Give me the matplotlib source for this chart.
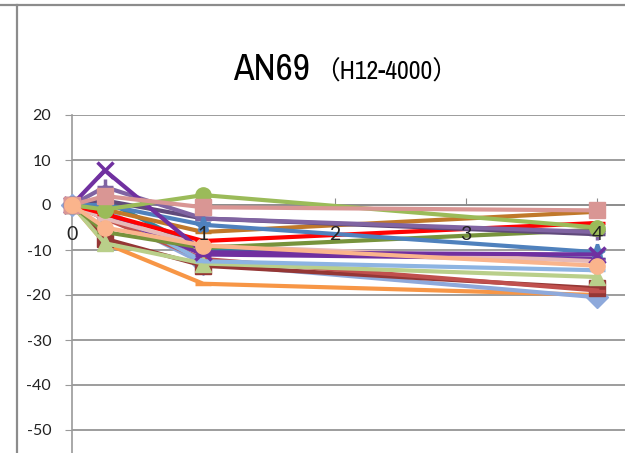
import matplotlib
matplotlib.use("Agg")
import matplotlib.pyplot as plt
from matplotlib import font_manager
from matplotlib.lines import Line2D

# ---- data ----
x_vals = [0, 0.25, 1, 4]
x_ticks = [0, 1, 2, 3, 4]
y_ticks = [-50, -40, -30, -20, -10, 0, 10, 20]

s_orange = [0, -8.5, -17.5, -20]
s_ltblue_dia = [0, -2, -13, -20.5]
s_darkred = [0, -7.5, -13.5, -18.5]
s_red2 = [0, -3, -12, -19]
s_ltgreen_tri = [0, -8.5, -13, -16]
s_blue2 = [0, -1, -12.5, -14.5]
s_teal = [0, 1, -10, -12]
s_purple2 = [0, -2, -11, -12]
s_salmon = [0, -3, -9, -12.5]
s_dkgreen = [0, -6, -9.5, -5.5]
s_red = [0, -2, -8, -4]
s_brown = [0, -1, -6, -1.5]
s_dkpurple = [0, 1, -3, -6.5]
s_purple_plus = [0, 4, -3, -6]
s_blue_star = [0, 0, -4.4, -10.5]
s_purple_x = [0, 7.7, -10.5, -11]
s_green_circ = [0, -1, 2.2, -5]
s_pink_sq = [0, 2, -0.5, -1.2]
s_peach_circ = [0, -5, -9, -13.5]

series = [
    (s_orange, "#F79646", "_"),
    (s_ltblue_dia, "#8EA9DB", "D"),
    (s_darkred, "#953735", "s"),
    (s_red2, "#C0504D", "_"),
    (s_ltgreen_tri, "#B9CF8A", "^"),
    (s_blue2, "#8DB4E2", "_"),
    (s_teal, "#31859C", "_"),
    (s_purple2, "#7030A0", "_"),
    (s_salmon, "#E6B9B8", "_"),
    (s_dkgreen, "#77933C", "_"),
    (s_red, "#FF0000", "_"),
    (s_brown, "#C0782A", "_"),
    (s_dkpurple, "#604A7B", "_"),
    (s_purple_plus, "#8064A2", "+"),
    (s_blue_star, "#4F81BD", "*"),
    (s_purple_x, "#7030A0", "x"),
    (s_green_circ, "#9BBB59", "o"),
    (s_pink_sq, "#D99694", "s"),
    (s_peach_circ, "#FAB48C", "o"),
]

# ---- fonts ----
flist = font_manager.fontManager.ttflist
avail = {f.name for f in flist}
narrow = None
for f in flist:
    if "Narrow" in f.name or "Condensed" in f.name:
        narrow = f.name
        break
title_stretch = "normal"
if narrow is None:
    for f in flist:
        if f.name == "DejaVu Sans" and str(f.stretch) in ("condensed", "semi-condensed", "600", "700"):
            narrow = "DejaVu Sans"
            title_stretch = "condensed"
            break
if narrow is None:
    narrow = "Liberation Sans"
    title_size = 25
else:
    title_size = 27
tickfont = "Lato" if "Lato" in avail else "DejaVu Sans"

W, H = 625, 453
fig = plt.figure(figsize=(W / 100, H / 100), dpi=100)
left = 72 / W
top = (H - 115) / H
rect = [left, 0, 1 - left, top]
ax = fig.add_axes(rect)

for vals, col, mk in series:
    mew = 2.5 if mk in ("x", "+", "*", "_") else 1
    ax.plot(x_vals, vals, color=col, lw=3, marker=mk, ms=11, mew=mew,
            mfc=col, mec=col, solid_joinstyle="round", clip_on=False, zorder=3)

xlim = (0, (W - 72) / 131.3)
ylim = (-50 - 23 / 4.5, 20)
ax.set_xlim(*xlim)
ax.set_ylim(*ylim)
ax.set_yticks(y_ticks)
ax.set_xticks(x_ticks)
ax.set_yticklabels([str(v) for v in y_ticks], fontsize=11.5, family=tickfont, color="#222222")
ax.tick_params(axis="x", labelbottom=False, direction="in", length=5, color="#8c8c8c")
ax.grid(axis="y", color="#8c8c8c", lw=1.2)
ax.set_axisbelow(True)
for s in ["top", "right"]:
    ax.spines[s].set_visible(False)
ax.spines["left"].set_color("#9a9a9a")
ax.spines["left"].set_linewidth(1.2)
ax.spines["bottom"].set_position(("data", 0))
ax.spines["bottom"].set_color("#8c8c8c")
ax.spines["bottom"].set_linewidth(1.2)
ax.tick_params(axis="y", direction="out", length=5, color="#9a9a9a", pad=10)

# overlay axes carrying the category labels drawn above the lines
ax2 = fig.add_axes(rect, zorder=5)
ax2.patch.set_visible(False)
ax2.set_xlim(*xlim)
ax2.set_ylim(*ylim)
for s in ["top", "right", "left"]:
    ax2.spines[s].set_visible(False)
ax2.spines["bottom"].set_position(("data", 0))
ax2.spines["bottom"].set_visible(False)
ax2.set_yticks([])
ax2.set_xticks(x_ticks)
ax2.set_xticklabels([str(v) for v in x_ticks], fontsize=14, family=tickfont, color="#222222")
ax2.tick_params(axis="x", length=0, pad=15)

# chart frame
fig.add_artist(Line2D([0, 1], [(H - 5) / H, (H - 5) / H], color="#8c8c8c", lw=1.6, transform=fig.transFigure))
fig.add_artist(Line2D([17 / W, 17 / W], [0, (H - 5) / H], color="#8c8c8c", lw=1.6, transform=fig.transFigure))

# title
ty = (H - 80) / H
fig.text(310 / W, ty, "AN69", fontsize=title_size, family=narrow, fontstretch=title_stretch,
         ha="right", va="baseline", color="#000000")
fig.text(314 / W, ty, "（H12-4000）", fontsize=18.5, family=[narrow, "Noto Sans CJK SC"],
         fontstretch=title_stretch, ha="left", va="baseline", color="#000000")

fig.savefig("out.png", dpi=100)
